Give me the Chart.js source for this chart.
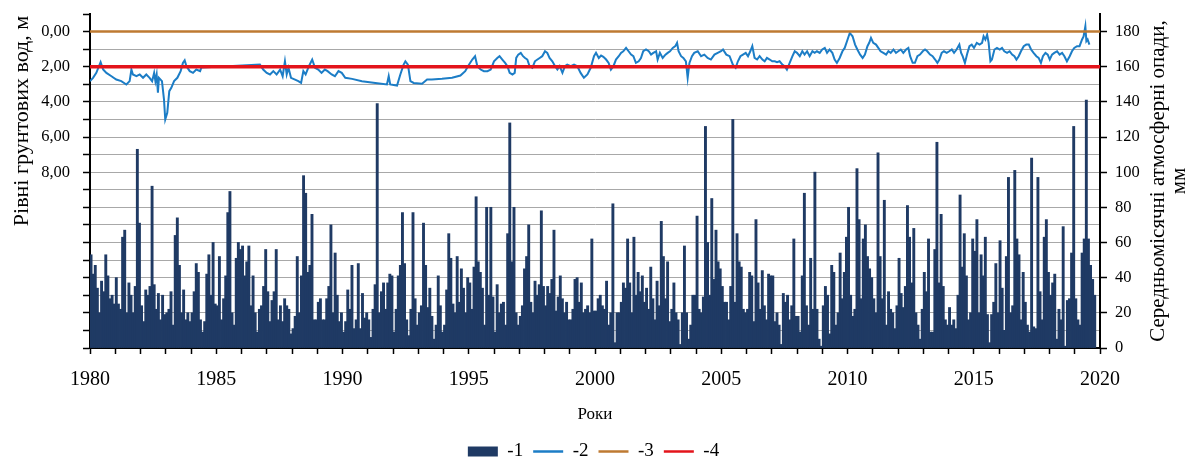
<!DOCTYPE html>
<html lang="uk">
<head>
<meta charset="utf-8">
<title>Рівні грунтових вод та опади, 1980–2019</title>
<script src="https://cdn.jsdelivr.net/npm/chart.js@4.4.1/dist/chart.umd.min.js"></script>
<style>
  html, body { margin: 0; padding: 0; background: #fff; }
  #wrap { width: 1187px; height: 463px; position: relative; }
</style>
</head>
<body>
<div id="wrap"><canvas id="chart"></canvas></div>
<script>
// Monthly precipitation, mm (Jan..Dec for each year)
const startYear = 1980;
const precip1980s = [
  53, 42, 47, 34, 20, 38, 32, 53, 41, 28, 30, 25,
  40, 25, 22, 63, 67, 20, 37, 30, 20, 35, 113, 71,
  24, 15, 33, 30, 35, 92, 36, 22, 31, 16, 30, 19,
  20, 22, 32, 13, 64, 74, 47, 20, 33, 16, 20, 15,
  20, 32, 48, 43, 16, 9, 15, 42, 53, 30, 60, 25,
  24, 52, 16, 28, 41, 77, 89, 20, 13, 51, 60, 56,
  58, 41, 49, 58, 24, 41, 20, 9, 22, 24, 35, 56,
  32, 15, 27, 32, 56, 16, 24, 15, 28, 24, 22, 8,
  11, 18, 52, 20, 41, 98, 88, 43, 47, 76, 16, 16,
  26, 28, 16, 16, 28, 35, 70, 20, 54, 30, 15, 20
];
const precip1990s = [
  9, 15, 33, 22, 47, 11, 16, 48, 11, 31, 17, 20,
  16, 6, 22, 36, 139, 20, 32, 37, 22, 37, 42, 41,
  9, 22, 41, 47, 77, 48, 16, 7, 22, 77, 28, 13,
  20, 24, 71, 47, 23, 34, 18, 5, 13, 41, 24, 9,
  13, 33, 65, 51, 25, 20, 52, 26, 45, 34, 20, 40,
  37, 22, 46, 86, 49, 43, 34, 13, 80, 30, 80, 29,
  9, 36, 20, 25, 26, 13, 65, 128, 49, 80, 20, 13,
  18, 24, 45, 52, 70, 26, 20, 38, 30, 36, 78, 35,
  24, 35, 31, 39, 67, 21, 29, 41, 28, 20, 26, 16,
  16, 22, 39, 40, 26, 37, 20, 22, 24, 20, 62, 21
];
const precip2000s = [
  21, 28, 30, 24, 22, 38, 13, 20, 82, 3, 20, 20,
  26, 37, 34, 62, 37, 20, 63, 30, 43, 32, 41, 26,
  34, 22, 46, 28, 16, 38, 24, 72, 52, 28, 49, 15,
  22, 37, 20, 16, 2, 20, 58, 20, 5, 13, 30, 30,
  75, 22, 20, 29, 126, 60, 30, 85, 39, 67, 49, 45,
  35, 26, 26, 16, 35, 130, 26, 65, 49, 46, 22, 20,
  22, 43, 41, 15, 73, 37, 22, 44, 24, 16, 42, 41,
  41, 15, 20, 13, 2, 31, 26, 30, 16, 24, 62, 18,
  18, 9, 41, 88, 24, 13, 51, 22, 100, 22, 5, 1,
  24, 35, 30, 8, 47, 43, 13, 20, 54, 28, 43, 63
];
const precip2010s = [
  80, 30, 18, 22, 102, 73, 28, 62, 70, 52, 45, 40,
  28, 20, 111, 52, 28, 84, 13, 32, 22, 20, 11, 24,
  51, 31, 23, 35, 81, 63, 37, 68, 20, 13, 5, 22,
  43, 32, 62, 9, 9, 56, 117, 37, 76, 35, 16, 13,
  23, 13, 16, 11, 30, 87, 46, 65, 41, 16, 20, 62,
  55, 73, 20, 53, 41, 63, 19, 3, 19, 26, 48, 20,
  61, 34, 10, 52, 97, 20, 24, 101, 62, 53, 16, 43,
  26, 13, 9, 108, 12, 11, 97, 32, 16, 63, 73, 43,
  30, 37, 42, 5, 22, 16, 69, 1, 27, 28, 54, 126,
  28, 16, 13, 54, 62, 141, 62, 47, 39, 30, null, null
];

// Groundwater level, m below surface (date as decimal year)
const gwYears = [
  1980.00, 1980.12, 1980.25, 1980.42, 1980.52, 1980.65, 1980.85, 1981.04, 1981.24, 1981.44,
  1981.57, 1981.64, 1981.70, 1981.84, 1981.97, 1982.10, 1982.23, 1982.36, 1982.46, 1982.54,
  1982.59, 1982.64, 1982.69, 1982.73, 1982.85, 1982.93, 1982.98, 1983.06, 1983.14, 1983.22,
  1983.33, 1983.46, 1983.59, 1983.68, 1983.75, 1983.82, 1983.95, 1984.08, 1984.21, 1984.36,
  1984.41,
  1986.73, 1986.86, 1987.00, 1987.13, 1987.26, 1987.39, 1987.53, 1987.63, 1987.72, 1987.79,
  1987.86, 1987.96, 1988.12, 1988.25, 1988.36, 1988.45, 1988.54, 1988.67, 1988.80, 1988.91,
  1989.04, 1989.17, 1989.30, 1989.41, 1989.57, 1989.70, 1989.84, 1989.97,
  1990.11, 1990.38, 1990.77, 1991.30, 1991.76, 1991.83, 1991.89, 1992.16, 1992.29, 1992.42,
  1992.49, 1992.59, 1992.69, 1992.82, 1993.15, 1993.35, 1993.54, 1993.94, 1994.34, 1994.67,
  1994.86, 1994.97,
  1995.14, 1995.25, 1995.34, 1995.47, 1995.60, 1995.74, 1995.87, 1996.00, 1996.13, 1996.22,
  1996.33, 1996.44, 1996.53, 1996.62, 1996.73, 1996.82, 1996.88, 1996.96, 1997.06, 1997.15,
  1997.23, 1997.32, 1997.41, 1997.52, 1997.62, 1997.72, 1997.81, 1997.91, 1998.02, 1998.11,
  1998.20, 1998.31, 1998.42, 1998.51, 1998.60, 1998.71, 1998.81, 1998.90, 1999.04, 1999.17,
  1999.30, 1999.43, 1999.56, 1999.70, 1999.83, 1999.96,
  2000.04, 2000.15, 2000.24, 2000.33, 2000.44, 2000.54, 2000.63, 2000.73, 2000.83, 2000.94,
  2001.03, 2001.12, 2001.23, 2001.33, 2001.43, 2001.52, 2001.62, 2001.73, 2001.82, 2001.91,
  2002.02, 2002.13, 2002.22, 2002.31, 2002.42, 2002.48, 2002.57, 2002.68, 2002.79, 2002.88,
  2002.97, 2003.08, 2003.18, 2003.25, 2003.31, 2003.41, 2003.50, 2003.60, 2003.67, 2003.74,
  2003.84, 2003.93, 2004.07, 2004.20, 2004.33, 2004.46, 2004.59, 2004.73, 2004.86, 2004.99,
  2005.07, 2005.20, 2005.33, 2005.46, 2005.57, 2005.66, 2005.76, 2005.86, 2005.97, 2006.06,
  2006.15, 2006.23, 2006.32, 2006.42, 2006.52, 2006.63, 2006.72, 2006.81, 2006.92, 2007.02,
  2007.12, 2007.21, 2007.31, 2007.42, 2007.51, 2007.60, 2007.71, 2007.82, 2007.91, 2008.00,
  2008.11, 2008.21, 2008.30, 2008.40, 2008.50, 2008.61, 2008.70, 2008.79, 2008.90, 2009.00,
  2009.10, 2009.19, 2009.29, 2009.40, 2009.49, 2009.58, 2009.69, 2009.80, 2009.89, 2009.98,
  2010.09, 2010.20, 2010.30, 2010.39, 2010.50, 2010.60, 2010.69, 2010.79, 2010.86, 2010.93,
  2011.02, 2011.13, 2011.22, 2011.31, 2011.42, 2011.53, 2011.62, 2011.71, 2011.82, 2011.92,
  2012.01, 2012.11, 2012.21, 2012.32, 2012.41, 2012.48, 2012.58, 2012.67, 2012.77, 2012.87,
  2012.98, 2013.07, 2013.16, 2013.27, 2013.37, 2013.47, 2013.56, 2013.64, 2013.73, 2013.82,
  2013.93, 2014.03, 2014.13, 2014.22, 2014.32, 2014.43, 2014.50, 2014.56, 2014.65, 2014.75,
  2014.83, 2014.92, 2015.01, 2015.12, 2015.23, 2015.33, 2015.39, 2015.46, 2015.53, 2015.59,
  2015.66, 2015.72, 2015.82, 2015.92, 2016.03, 2016.12, 2016.21, 2016.32, 2016.42, 2016.52,
  2016.61, 2016.69, 2016.78, 2016.87, 2016.98, 2017.08, 2017.18, 2017.27, 2017.37, 2017.48,
  2017.57, 2017.66, 2017.74, 2017.84, 2017.93, 2018.01, 2018.10, 2018.19, 2018.30, 2018.40,
  2018.50, 2018.59, 2018.69, 2018.80, 2018.89, 2018.98, 2019.09, 2019.19, 2019.29, 2019.35,
  2019.42, 2019.46, 2019.51, 2019.58
];
const gwLevels = [
  2.82, 2.63, 2.35, 1.74, 2.16, 2.35, 2.54, 2.73, 2.82, 3.01,
  2.82, 2.16, 2.44, 2.54, 2.44, 2.63, 2.44, 2.63, 2.82, 2.35,
  2.82, 2.44, 3.48, 2.63, 2.82, 3.86, 5.00, 4.62, 3.39, 3.20,
  2.82, 2.63, 2.25, 1.78, 1.63, 1.97, 2.25, 2.35, 2.16, 2.25,
  2.05,
  1.88, 2.16, 2.35, 2.44, 2.25, 2.44, 2.16, 2.54, 1.69, 2.44,
  2.06, 2.63, 2.73, 2.82, 2.92, 2.25, 2.44, 1.97, 1.59, 2.06,
  2.16, 2.35, 2.16, 2.25, 2.44, 2.54, 2.25, 2.35,
  2.63, 2.69, 2.82, 2.92, 3.01, 2.54, 3.01, 3.07, 2.44, 1.88,
  1.69, 1.88, 2.82, 2.92, 2.97, 2.73, 2.73, 2.69, 2.63, 2.50,
  2.25, 1.97,
  1.59, 1.40, 1.97, 2.16, 2.25, 2.25, 2.16, 1.69, 1.50, 1.40,
  1.59, 1.78, 1.97, 2.35, 2.44, 2.35, 1.50, 1.31, 1.21, 1.40,
  1.50, 1.59, 1.97, 2.06, 1.69, 1.59, 1.50, 1.40, 1.12, 1.21,
  1.50, 1.69, 1.97, 2.16, 1.97, 2.35, 1.97, 1.88, 1.97, 1.88,
  1.97, 2.35, 2.63, 2.44, 2.06, 1.40,
  1.21, 1.50, 1.36, 1.44, 1.59, 1.78, 2.16, 1.97, 1.59, 1.40,
  1.21, 1.12, 0.93, 1.12, 1.31, 1.40, 1.78, 1.69, 1.50, 1.12,
  1.02, 1.12, 1.31, 1.21, 1.12, 1.59, 1.21, 1.50, 1.31, 1.21,
  1.12, 0.93, 0.83, 0.64, 1.12, 1.40, 1.50, 1.69, 2.63, 1.78,
  1.40, 1.21, 1.12, 1.40, 1.31, 1.50, 1.59, 1.31, 1.21, 1.12,
  1.02, 1.31, 1.40, 1.88, 2.06, 1.69, 1.40, 1.31, 1.21, 1.40,
  1.12, 0.83, 1.50, 1.59, 1.40, 1.59, 1.69, 1.50, 1.59, 1.69,
  1.69, 1.74, 1.69, 1.88, 1.97, 2.16, 1.78, 1.40, 1.12, 1.21,
  1.40, 1.12, 1.31, 1.12, 1.40, 1.12, 1.21, 1.12, 1.21, 1.02,
  0.93, 1.21, 1.02, 1.21, 1.59, 1.78, 1.50, 1.12, 0.93, 0.55,
  0.08, 0.27, 0.74, 1.02, 1.31, 1.50, 1.31, 0.83, 0.64, 0.36,
  0.64, 0.74, 0.93, 1.12, 1.21, 1.31, 1.12, 1.21, 1.02, 1.21,
  1.12, 1.02, 1.21, 1.02, 0.93, 1.40, 1.78, 1.78, 1.40, 1.31,
  1.12, 1.02, 1.12, 1.31, 1.40, 1.59, 1.78, 1.59, 1.21, 1.12,
  1.21, 1.12, 1.02, 1.21, 1.02, 0.74, 1.21, 1.40, 1.78, 1.21,
  0.83, 0.74, 0.93, 0.64, 0.74, 0.64, 0.27, 0.45, 0.17, 0.64,
  1.69, 1.59, 1.02, 0.93, 1.02, 0.93, 1.12, 1.21, 1.12, 1.31,
  1.40, 1.59, 1.40, 1.12, 0.83, 0.74, 0.74, 1.02, 1.21, 1.40,
  1.50, 1.78, 1.40, 1.21, 1.31, 1.59, 1.31, 1.21, 1.12, 1.31,
  1.21, 1.40, 1.69, 1.40, 1.12, 0.93, 0.83, 0.83, 0.45, 0.27,
  -0.30, 0.55, 0.45, 0.74
];

// Reference levels, m
const refSpan = [1980, 2020];
const surfaceLevel = [0, 0];
const criticalLevel = [2, 2];

const legendNames = ['-1', '-2', '-3', '-4'];
const leftLabelled = [0, 2, 4, 6, 8];
const leftTitle = 'Рівні грунтових вод, м';
const rightTitle = ['Середньомісячні атмосферні опади,', 'мм'];
const xTitle = 'Роки';

const serif = '"Liberation Serif", "Times New Roman", serif';

const precip = precip1980s.concat(precip1990s, precip2000s, precip2010s);
const precipPoints = precip.map((v, i) => ({ x: startYear + (i + 0.5) / 12, y: v }));
const gwPoints = gwYears.map((yr, i) => ({ x: yr, y: gwLevels[i] }));

// y-axis titles are drawn by hand (both read bottom-to-top)
const axisTitles = {
  id: 'axisTitles',
  afterDraw(chart) {
    const { ctx, chartArea } = chart;
    const r = chart.scales.yR;
    ctx.save();
    ctx.fillStyle = '#000';
    ctx.font = '22px ' + serif;
    ctx.textAlign = 'center';
    ctx.textBaseline = 'middle';
    ctx.translate(22, 121);
    ctx.rotate(-Math.PI / 2);
    ctx.fillText(leftTitle, 0, 0);
    ctx.restore();

    ctx.save();
    ctx.fillStyle = '#000';
    ctx.font = '21px ' + serif;
    ctx.textAlign = 'center';
    ctx.textBaseline = 'middle';
    ctx.translate(r.right - 29, (chartArea.top + chartArea.bottom) / 2);
    ctx.rotate(-Math.PI / 2);
    ctx.fillText(rightTitle[0], 0, 0);
    ctx.fillText(rightTitle[1], 0, 21);
    ctx.restore();
  }
};

// pin the plot area: no extra room for half-labels at the top
const fixY = width => s => { s.width = width; s.paddingTop = 0; s.paddingBottom = 0; };

const ctx = document.getElementById('chart').getContext('2d');
new Chart(ctx, {
  type: 'bar',
  data: {
    datasets: [
      {
        type: 'bar', label: legendNames[0], data: precipPoints,
        xAxisID: 'x', yAxisID: 'yR',
        backgroundColor: '#1F3A64', borderWidth: 0,
        barPercentage: 1, categoryPercentage: 1, inflateAmount: 0.4, order: 3
      },
      {
        type: 'line', label: legendNames[1], data: gwPoints,
        xAxisID: 'x', yAxisID: 'y',
        borderColor: '#1C7DC6', backgroundColor: '#1C7DC6', borderWidth: 2,
        pointRadius: 0, tension: 0, order: 2
      },
      {
        type: 'line', label: legendNames[2],
        data: refSpan.map((x, i) => ({ x, y: surfaceLevel[i] })),
        xAxisID: 'x', yAxisID: 'y',
        borderColor: '#BE7A32', backgroundColor: '#BE7A32', borderWidth: 2.5,
        pointRadius: 0, order: 1
      },
      {
        type: 'line', label: legendNames[3],
        data: refSpan.map((x, i) => ({ x, y: criticalLevel[i] })),
        xAxisID: 'x', yAxisID: 'y',
        borderColor: '#E3141B', backgroundColor: '#E3141B', borderWidth: 3.5,
        pointRadius: 0, order: 0
      }
    ]
  },
  options: {
    responsive: true,
    maintainAspectRatio: false,
    animation: false,
    layout: { padding: { top: 14, left: 0, right: 0, bottom: -8 } },
    plugins: {
      tooltip: { enabled: false },
      legend: {
        position: 'bottom',
        labels: {
          usePointStyle: true,
          pointStyleWidth: 30,
          boxHeight: 10,
          padding: 10,
          color: '#000',
          font: { family: serif, size: 19 },
          generateLabels: chart => chart.data.datasets.map((ds, i) => ({
            text: ds.label,
            datasetIndex: i,
            hidden: false,
            pointStyle: ds.type === 'bar' ? 'rect' : 'line',
            fillStyle: ds.type === 'bar' ? ds.backgroundColor : ds.borderColor,
            strokeStyle: ds.type === 'bar' ? ds.backgroundColor : ds.borderColor,
            lineWidth: ds.type === 'bar' ? 0 : 2.5,
            fontColor: '#000'
          }))
        }
      }
    },
    scales: {
      x: {
        type: 'linear', min: 1980, max: 2020, offset: false,
        grid: { drawOnChartArea: false, offset: false, tickColor: '#000', tickLength: 6, tickWidth: 1.5 },
        border: { color: '#000', width: 2 },
        ticks: {
          stepSize: 1, autoSkip: false, maxRotation: 0, padding: 14, color: '#000',
          font: { family: serif, size: 20 },
          callback: v => (Math.round(v) % 5 === 0 ? String(Math.round(v)) : '')
        },
        title: {
          display: true, text: xTitle, color: '#000',
          font: { family: serif, size: 17 }, padding: { top: 0, bottom: 7 }
        },
        afterFit: s => { s.height = 84; }
      },
      y: {
        type: 'linear', position: 'left', reverse: true, min: -1, max: 18,
        grid: {
          color: c => (c.tick && c.tick.value === -1 ? 'rgba(0,0,0,0)' : '#A8A8A8'),
          lineWidth: 1, tickColor: '#000', tickLength: 7, tickWidth: 1.5
        },
        border: { color: '#000', width: 2 },
        ticks: {
          stepSize: 1, autoSkip: false, padding: 13, color: '#000',
          font: { family: serif, size: 16.5 },
          callback: v => (leftLabelled.includes(v) ? v.toFixed(2).replace('.', ',') : '')
        },
        afterFit: fixY(90)
      },
      yR: {
        type: 'linear', position: 'right', min: 0, max: 190,
        grid: { drawOnChartArea: false, tickColor: '#000', tickLength: 7, tickWidth: 1.5 },
        border: { color: '#000', width: 2 },
        ticks: {
          stepSize: 20, includeBounds: false, autoSkip: false, padding: 8, color: '#000',
          font: { family: serif, size: 16.5 }
        },
        afterFit: fixY(87)
      }
    }
  },
  plugins: [axisTitles]
});
</script>
</body>
</html>
